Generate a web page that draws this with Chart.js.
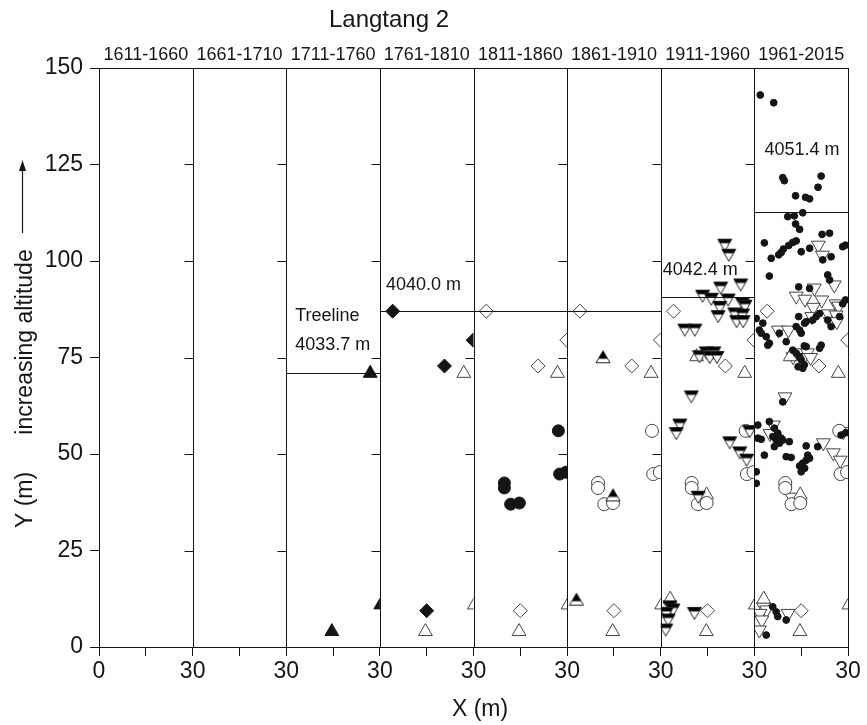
<!DOCTYPE html>
<html>
<head>
<meta charset="utf-8">
<title>Langtang 2</title>
<script src="https://cdn.jsdelivr.net/npm/chart.js@4.4.1/dist/chart.umd.min.js"></script>
<style>
  html, body { margin: 0; padding: 0; background: #fff; }
  #wrap { width: 867px; height: 725px; }
</style>
</head>
<body>
<div id="wrap"><canvas id="chart" width="867" height="725"></canvas></div>
<script>
const chartTitle = 'Langtang 2';
const periods = ['1611-1660', '1661-1710', '1711-1760', '1761-1810', '1811-1860', '1861-1910', '1911-1960', '1961-2015'];
const xTickValues = [0, 15, 30, 45, 60, 75, 90, 105, 120, 135, 150, 165, 180, 195, 210, 225, 240];
const xTickLabels = ['0', '30', '30', '30', '30', '30', '30', '30', '30'];
const yTickValues = [0, 25, 50, 75, 100, 125, 150];

// treeline per period (altitude above plot base, m)
const treelineValues = [71.0, 87.0, 90.6, 112.8];
const treelineFirstPanel = [2, 3, 6, 7];
const treelineLastPanel = [2, 5, 6, 7];
const treelineLabels = [['Treeline', '4033.7 m'], ['4040.0 m'], ['4042.4 m'], ['4051.4 m']];

// tree positions [x, y] inside a 30 m panel, by period of establishment
const trees1711 = [[14.6, 4.0], [26.9, 70.9], [30.3, 10.9]];
const trees1761 = [[4.1, 87.0], [20.7, 72.8], [29.9, 79.5], [15.0, 9.4]];
const trees1811 = [[9.9, 42.5], [9.9, 41.2], [11.9, 37.0], [14.7, 37.3], [27.2, 56.0], [27.6, 44.8], [29.7, 45.3]];
const trees1861 = [[3.0, 12.4], [14.7, 39.4], [11.5, 75.2]];
const trees1911 = [
  [20.5, 104.1], [21.8, 101.5], [25.6, 93.8], [19.2, 93.0], [13.4, 90.9], [16.2, 90.1], [21.6, 89.9],
  [18.9, 88.0], [26.2, 88.9], [27.0, 88.3], [18.4, 85.6], [23.7, 86.3], [26.2, 86.0], [24.3, 84.3],
  [26.4, 84.3], [7.7, 82.1], [10.9, 82.1], [14.6, 76.2], [17.0, 76.2], [12.4, 75.2], [15.7, 75.0],
  [18.0, 75.0], [9.8, 64.8], [6.1, 57.5], [5.0, 55.3], [22.1, 52.9], [25.3, 50.3], [27.5, 48.4],
  [28.5, 55.8], [12.0, 38.8], [2.9, 10.4], [3.9, 9.6], [1.8, 8.7], [2.4, 7.0], [1.6, 4.4], [10.8, 8.7]
];
const trees1961 = [
  [1.9, 143], [6.2, 141], [9.1, 121.6], [9.6, 120.8], [21.4, 122], [20.4, 119.1],
  [13.2, 116.9], [16.4, 116.5], [17.7, 116.1], [15.5, 112.5], [10.7, 111.5], [12.8, 111.7],
  [13.2, 109.6], [14.5, 108.2], [21.7, 106.9], [24.1, 107.2], [3.2, 104.7], [12.3, 104.8],
  [11.0, 104.0], [13.4, 105.2], [15.0, 102.4], [17.7, 103.3], [9.3, 103.1], [8.6, 102.2],
  [7.8, 101.6], [5.4, 100.7], [21.9, 100.3], [24.6, 101.1], [28.3, 103.7], [29.2, 104.1],
  [4.8, 96.1], [23.5, 96.4], [24.1, 95.1], [14.2, 93.3], [17.7, 92.9], [29.2, 89.9], [28.3, 88.9],
  [20.9, 86.4], [23.5, 84.7], [27.3, 85.6], [24.6, 83.0], [19.8, 85.6], [18.7, 84.7],
  [14.2, 85.6], [16.1, 83.9], [16.6, 84.3], [13.4, 83.0], [14.5, 82.1], [15.0, 81.3],
  [0.6, 85.1], [2.7, 83.9], [1.6, 82.1], [3.8, 80.4], [2.2, 81.3], [4.8, 78.7], [4.3, 78.2], [8.0, 81.3],
  [10.2, 79.1], [16.6, 77.8], [21.4, 78.2], [20.9, 77.4], [16.0, 78.0],
  [12.3, 76.9], [13.4, 76.1], [14.5, 75.2], [15.0, 74.4], [16.0, 73.1], [14.0, 72.6], [15.5, 72.2],
  [9.1, 63.5], [1.1, 57.5], [4.8, 58.4], [6.4, 56.7], [1.1, 54.1], [2.2, 53.8],
  [5.9, 54.5], [7.0, 53.6], [8.0, 52.8], [6.4, 51.9], [9.1, 53.6], [11.2, 53.2], [7.5, 55.4], [8.6, 54.1],
  [3.2, 49.7], [16.6, 52.1], [20.3, 51.9], [10.2, 49.3], [11.8, 49.1],
  [17.1, 49.7], [16.6, 48.4], [15.5, 47.6], [14.5, 46.9], [16.1, 46.3], [15.0, 45.4], [17.7, 48.9],
  [0.6, 45.4], [0.6, 42.4], [27.8, 54.9], [29.3, 55.5],
  [5.9, 10.4], [7.0, 9.1], [7.5, 7.9], [10.2, 7.0], [3.8, 3.1]
];

const FONT = '"Liberation Sans", Arial, sans-serif';
const INK = '#151515';
const OPEN = '#444';

// triangle with the upper part filled, used for the 1861 and 1911 cohorts
function halfTriangle(down) {
    const c = document.createElement('canvas');
    c.width = 16;
    c.height = 15;
    const g = c.getContext('2d');
    const pts = down ? [[1, 1.5], [15, 1.5], [8, 13.5]] : [[8, 1.5], [15, 13.5], [1, 13.5]];
    const cut = down ? 5.5 : 9.5;
    const path = () => {
        g.beginPath();
        g.moveTo(pts[0][0], pts[0][1]);
        g.lineTo(pts[1][0], pts[1][1]);
        g.lineTo(pts[2][0], pts[2][1]);
        g.closePath();
    };
    path();
    g.fillStyle = '#fff';
    g.fill();
    g.save();
    path();
    g.clip();
    g.fillStyle = '#000';
    g.fillRect(0, 0, 16, cut);
    g.restore();
    path();
    g.strokeStyle = '#222';
    g.lineWidth = 1;
    g.stroke();
    return c;
}

const markers = {
    triFilled: { pointStyle: 'triangle', pointRadius: 8, pointBackgroundColor: INK, pointBorderColor: INK },
    triOpen: { pointStyle: 'triangle', pointRadius: 8, pointBackgroundColor: '#fff', pointBorderColor: OPEN },
    diaFilled: { pointStyle: 'rectRot', pointRadius: 7, pointBackgroundColor: INK, pointBorderColor: INK },
    diaOpen: { pointStyle: 'rectRot', pointRadius: 7, pointBackgroundColor: '#fff', pointBorderColor: OPEN },
    circFilled: { pointStyle: 'circle', pointRadius: 6, pointBackgroundColor: INK, pointBorderColor: INK },
    circOpen: { pointStyle: 'circle', pointRadius: 6.5, pointBackgroundColor: '#fff', pointBorderColor: OPEN },
    halfUp: { pointStyle: halfTriangle(false), pointRadius: 8 },
    halfDown: { pointStyle: halfTriangle(true), pointRadius: 8 },
    downOpen: { pointStyle: 'triangle', pointRotation: 180, pointRadius: 8, pointBackgroundColor: '#fff', pointBorderColor: OPEN },
    dot: { pointStyle: 'circle', pointRadius: 3.4, pointBackgroundColor: INK, pointBorderColor: INK },
};

const cohorts = [
    { panel: 2, trees: trees1711, mark: 'triFilled', later: 'triOpen' },
    { panel: 3, trees: trees1761, mark: 'diaFilled', later: 'diaOpen' },
    { panel: 4, trees: trees1811, mark: 'circFilled', later: 'circOpen' },
    { panel: 5, trees: trees1861, mark: 'halfUp', later: 'triOpen' },
    { panel: 6, trees: trees1911, mark: 'halfDown', later: 'downOpen' },
    { panel: 7, trees: trees1961, mark: 'dot', later: 'dot' },
];

// every panel shows its own cohort filled and the older ones open
const datasets = [];
periods.forEach((period, p) => {
    cohorts.filter(c => c.panel <= p).forEach(c => {
        const isNew = c.panel === p;
        datasets.push({
            label: period,
            panel: p,
            data: c.trees.map(t => ({ x: t[0] + p * 30, y: t[1] })),
            order: isNew ? 0 : 1,
            pointBorderWidth: 1,
            ...markers[isNew ? c.mark : c.later],
        });
    });
});

const px = v => Math.round(v) + 0.5;

const panelPlugin = {
    id: 'panels',
    beforeDatasetDraw(chart, args) {
        const ds = chart.data.datasets[args.index];
        const x = chart.scales.x;
        const area = chart.chartArea;
        const x0 = x.getPixelForValue(ds.panel * 30);
        const x1 = x.getPixelForValue((ds.panel + 1) * 30);
        chart.ctx.save();
        chart.ctx.beginPath();
        chart.ctx.rect(x0, area.top, x1 - x0, area.bottom - area.top);
        chart.ctx.clip();
    },
    afterDatasetDraw(chart) {
        chart.ctx.restore();
    },
    afterDatasetsDraw(chart, args, opts) {
        const { ctx, chartArea: area } = chart;
        const x = chart.scales.x;
        const y = chart.scales.y;
        ctx.save();
        ctx.strokeStyle = INK;
        ctx.lineWidth = 1;

        // panel dividers, frame and inward ticks
        ctx.beginPath();
        for (let p = 1; p <= periods.length; p++) {
            const X = px(x.getPixelForValue(p * 30));
            ctx.moveTo(X, area.top);
            ctx.lineTo(X, area.bottom);
            if (p < periods.length) {
                yTickValues.slice(1, -1).forEach(v => {
                    const Y = px(y.getPixelForValue(v));
                    ctx.moveTo(X - 9, Y);
                    ctx.lineTo(X, Y);
                });
            }
        }
        ctx.moveTo(area.left, px(area.top));
        ctx.lineTo(area.right + 1, px(area.top));
        ctx.stroke();

        // treelines
        ctx.fillStyle = INK;
        ctx.font = '18px ' + FONT;
        ctx.textAlign = 'left';
        ctx.textBaseline = 'middle';
        treelineValues.forEach((v, i) => {
            const X0 = x.getPixelForValue(treelineFirstPanel[i] * 30);
            const X1 = x.getPixelForValue((treelineLastPanel[i] + 1) * 30);
            const Y = px(y.getPixelForValue(v));
            ctx.beginPath();
            ctx.moveTo(X0, Y);
            ctx.lineTo(X1 + 1, Y);
            ctx.stroke();
            const lab = opts.labels[i];
            treelineLabels[i].forEach((t, k) => {
                ctx.fillText(t, X0 + lab.dx, Y + lab.dy[k]);
            });
        });
        ctx.restore();
    },
    afterDraw(chart) {
        const { ctx } = chart;
        const x = chart.scales.x;
        ctx.save();
        ctx.fillStyle = INK;

        ctx.textAlign = 'center';
        ctx.textBaseline = 'alphabetic';
        ctx.font = '24px ' + FONT;
        ctx.fillText(chartTitle, 389, 27);

        ctx.font = '18px ' + FONT;
        periods.forEach((t, p) => {
            ctx.fillText(t, x.getPixelForValue(p * 30 + 15), 60);
        });

        ctx.font = '23px ' + FONT;
        ctx.fillText('X (m)', 480, 716);

        ctx.save();
        ctx.translate(32, 500);
        ctx.rotate(-Math.PI / 2);
        ctx.fillText('Y (m)', 0, 0);
        ctx.restore();
        ctx.save();
        ctx.translate(32, 342);
        ctx.rotate(-Math.PI / 2);
        ctx.fillText('increasing altitude', 0, 0);
        ctx.restore();

        // arrow pointing up
        ctx.strokeStyle = INK;
        ctx.lineWidth = 1.2;
        ctx.beginPath();
        ctx.moveTo(22.5, 233);
        ctx.lineTo(22.5, 168);
        ctx.stroke();
        ctx.beginPath();
        ctx.moveTo(22.5, 160);
        ctx.lineTo(26, 171);
        ctx.lineTo(19, 171);
        ctx.closePath();
        ctx.fill();
        ctx.restore();
    }
};

const tickFont = { family: FONT, size: 23 };

new Chart(document.getElementById('chart'), {
    type: 'scatter',
    data: { datasets: datasets },
    options: {
        responsive: false,
        animation: false,
        events: [],
        layout: { padding: { top: 68, right: 19, left: 0, bottom: 0 } },
        plugins: {
            legend: { display: false },
            tooltip: { enabled: false },
            panels: {
                labels: [
                    { dx: 9, dy: [-57, -28] },
                    { dx: 6, dy: [-26] },
                    { dx: 2, dy: [-27] },
                    { dx: 10, dy: [-62] },
                ]
            }
        },
        scales: {
            x: {
                type: 'linear',
                min: 0,
                max: 240,
                afterBuildTicks: s => { s.ticks = xTickValues.map(v => ({ value: v })); },
                afterFit: s => { s.height = 78; },
                ticks: {
                    autoSkip: false,
                    maxRotation: 0,
                    padding: 2,
                    color: INK,
                    font: tickFont,
                    callback: v => v % 30 === 0 ? xTickLabels[v / 30] : ''
                },
                grid: { drawOnChartArea: false, tickLength: 9, tickColor: INK, tickWidth: 1 },
                border: { color: INK, width: 1 }
            },
            y: {
                type: 'linear',
                min: 0,
                max: 150,
                afterBuildTicks: s => { s.ticks = yTickValues.map(v => ({ value: v })); },
                afterFit: s => { s.width = 99; },
                ticks: { padding: 7, color: INK, font: tickFont },
                grid: { drawOnChartArea: false, tickLength: 9, tickColor: INK, tickWidth: 1 },
                border: { color: INK, width: 1 }
            }
        }
    },
    plugins: [panelPlugin]
});
</script>
</body>
</html>
